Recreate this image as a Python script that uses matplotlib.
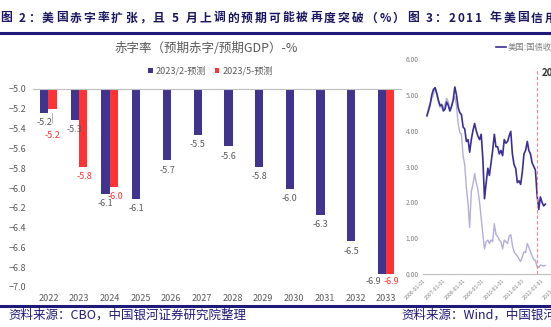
import matplotlib
matplotlib.use('Agg')
import matplotlib.pyplot as plt
import matplotlib.dates as mdates
import numpy as np
import pandas as pd

plt.rcParams['font.family'] = ['Noto Sans CJK SC', 'DejaVu Sans']

# deficit / GDP, CBO projections
years = ['2022', '2023', '2024', '2025', '2026', '2027', '2028', '2029', '2030', '2031', '2032', '2033']
feb_2023 = [-5.24, -5.31, -6.06, -6.11, -5.72, -5.46, -5.58, -5.79, -6.01, -6.27, -6.54, -6.87]
may_2023 = [-5.20, -5.79, -5.99, None, None, None, None, None, None, None, None, -6.87]
series_names = ['2023/2-预测', '2023/5-预测']

# US treasury yields, monthly, 2006-01 .. 2012-01
yield_10y = [4.42, 4.57, 4.72, 5.00, 5.15, 5.20, 5.05, 4.85, 4.70, 4.72, 4.55, 4.60,
             4.80, 4.70, 4.55, 4.68, 4.85, 5.22, 5.00, 4.65, 4.50, 4.45, 4.10, 4.05,
             3.70, 3.75, 3.40, 3.75, 4.00, 4.20, 4.00, 3.85, 3.75, 3.90, 3.20, 2.10,
             2.55, 2.95, 2.75, 3.10, 3.45, 3.90, 3.55, 3.55, 3.35, 3.45, 3.30, 3.75,
             3.65, 3.70, 3.85, 3.98, 3.35, 3.05, 2.95, 2.55, 2.60, 2.50, 2.85, 3.35,
             3.45, 3.70, 3.45, 3.35, 3.10, 3.00, 2.90, 2.20, 1.80, 2.15, 2.00, 1.90,
             1.95]
yield_2y = [4.40, 4.65, 4.78, 4.90, 5.00, 5.20, 5.00, 4.80, 4.65, 4.75, 4.60, 4.75,
            4.90, 4.80, 4.55, 4.65, 4.85, 4.95, 4.70, 4.20, 3.95, 3.90, 3.30, 3.05,
            2.40, 1.95, 1.30, 2.30, 2.50, 2.80, 2.55, 2.35, 2.00, 1.55, 1.10, 0.70,
            0.90, 0.95, 0.85, 0.95, 0.90, 1.40, 1.10, 1.05, 0.95, 0.90, 0.70, 0.95,
            0.90, 0.85, 1.05, 1.10, 0.80, 0.62, 0.55, 0.50, 0.42, 0.35, 0.48, 0.62,
            0.60, 0.85, 0.75, 0.62, 0.50, 0.40, 0.38, 0.20, 0.18, 0.25, 0.24, 0.22,
            0.24]
downgrade_date = '2011-08-05'

header = '图 2：美国赤字率扩张，且 5 月上调的预期可能被再度突破（%）图 3：2011 年美国信用'

BLUE = '#40348f'
RED = '#ff3333'
GREY = '#595959'
NAVY = '#1f1a7a'
W, H = 551, 327

fig = plt.figure(figsize=(W / 100, H / 100), dpi=100)
renderer = fig.canvas.get_renderer()

def box(x0, y0, x1, y1):
    # pixel box (top-left origin) -> figure fraction rect
    return [x0 / W, 1 - y1 / H, (x1 - x0) / W, (y1 - y0) / H]

def char_widths(s, **kw):
    widths = []
    for ch in s:
        if ch == ' ':
            widths.append(3.0)
            continue
        t = fig.text(0, 0, ch, **kw)
        widths.append(t.get_window_extent(renderer).width)
        t.remove()
    return widths

def tracked_text(x_px, y_px, s, anchor_char, anchor_x, **kw):
    # justified caption: spread letters so that anchor_char starts at anchor_x
    widths = char_widths(s, **kw)
    k = s.index(anchor_char)
    track = (anchor_x - x_px - sum(widths[:k])) / k
    x = x_px
    for ch, w in zip(s, widths):
        if ch != ' ':
            fig.text(x / W, 1 - y_px / H, ch, va='center', ha='left', **kw)
        x += w + track

# header / footer lines and captions
tracked_text(0, 18, header, '用', 545, fontsize=8.5, fontweight='bold', color='#1a1660')
for y in (33, 306):
    fig.add_artist(plt.Line2D([0, 1], [1 - y / H] * 2, color=NAVY, lw=2.2))
fig.text(8 / W, 1 - 315 / H, '资料来源：CBO，中国银河证券研究院整理', fontsize=9.0, color=NAVY, va='center')
fig.text(401 / W, 1 - 315 / H, '资料来源：Wind，中国银河', fontsize=9.0, color=NAVY, va='center')

# ---- deficit ratio bars ----
ax = fig.add_axes(box(33, 89, 401.4, 287))
x = np.arange(len(years))
w = 0.27
top = -5.0
feb = np.array(feb_2023, dtype=float)
may = np.array([np.nan if v is None else v for v in may_2023])
ax.bar(x - w / 2, feb - top, bottom=top, width=w, color=BLUE, label=series_names[0])
ax.bar(x + w / 2, may - top, bottom=top, width=w, color=RED, label=series_names[1])

for i, v in enumerate(feb):
    dx, dy = (-6, -5.5) if i == len(years) - 1 else (0, -7)
    ax.annotate(f'{v:.1f}', (x[i] - w / 2, v), xytext=(dx, dy), textcoords='offset points',
                ha='center', va='center', fontsize=6.5, color=GREY)
for i, v in enumerate(may):
    if np.isnan(v):
        continue
    if i == 0:
        ax.annotate(f'{v:.1f}', (x[i] + w / 2, v), xytext=(0, -19.5), textcoords='offset points',
                    ha='center', va='center', fontsize=6.5, color=RED,
                    arrowprops=dict(arrowstyle='-', color='#a6a6a6', lw=0.6, shrinkA=4, shrinkB=3.5))
    else:
        dy = -5.5 if i == len(years) - 1 else -7
        ax.annotate(f'{v:.1f}', (x[i] + w / 2, v), xytext=(1, dy), textcoords='offset points',
                    ha='center', va='center', fontsize=6.5, color=RED)

ax.set_xlim(-0.5, len(years) - 0.5)
ax.set_ylim(-7.0, -5.0)
ax.set_yticks(np.arange(-7.0, -4.99, 0.2))
ax.yaxis.set_major_formatter(plt.FuncFormatter(lambda v, _: f'{v:.1f}'.replace('-', '\u2212')))
ax.set_xticks(x, years)
ax.tick_params(length=0, labelsize=6.5, colors=GREY)
ax.tick_params(axis='y', pad=5)
ax.tick_params(axis='x', pad=5)
for s in ('left', 'right', 'bottom'):
    ax.spines[s].set_visible(False)
ax.spines['top'].set_color('#bfbfbf')
ax.spines['top'].set_linewidth(0.8)
ax.patch.set_alpha(0)

fig.text(206 / W, 1 - 48 / H, '赤字率（预期赤字/预期GDP）-%', fontsize=9, color=GREY, ha='center', va='center')
fig.legend(loc='center', bbox_to_anchor=(210 / W, 1 - 71 / H), ncol=2, frameon=False,
           fontsize=6.5, labelcolor=GREY, handlelength=0.55, handleheight=0.55,
           handletextpad=0.3, columnspacing=1.0)

# ---- treasury yields (next panel, clipped by the page edge) ----
ax2 = fig.add_axes(box(423, 59, 570, 274))
dates = pd.date_range('2006-01-01', periods=len(yield_10y), freq='MS')
ax2.plot(dates, yield_2y, color='#b3aed9', lw=1.0)
ax2.plot(dates, yield_10y, color='#3a2f95', lw=1.2, label='美国:国债收益率:10年')
d = pd.Timestamp(downgrade_date)
ax2.plot([d, d], [0, 5.75], color='#ff8080', lw=0.8, ls=(0, (3, 2)))
ax2.text(d + pd.Timedelta(days=90), 5.6, '2011', fontsize=7,
         fontweight='bold', color='#333333', va='center')
ax2.set_ylim(0, 6)
ax2.set_xlim(pd.Timestamp('2005-10-20'), pd.Timestamp('2013-04-01'))
ax2.set_yticks(np.arange(0, 6.01, 1.0))
ax2.yaxis.set_major_formatter(plt.FuncFormatter(lambda v, _: f'{v:.2f}'))
ax2.xaxis.set_major_locator(mdates.YearLocator())
ax2.xaxis.set_major_formatter(mdates.DateFormatter('%Y-%m-%d'))
ax2.tick_params(length=0, labelsize=4.8, colors='#7f7f7f', pad=3)
plt.setp(ax2.get_xticklabels(), rotation=45, ha='right', fontsize=3.8)
for s in ('left', 'right', 'top'):
    ax2.spines[s].set_visible(False)
ax2.spines['bottom'].set_color('#bfbfbf')
ax2.spines['bottom'].set_linewidth(0.8)
ax2.patch.set_alpha(0)
fig.legend(handles=ax2.get_lines()[1:2], loc='center left', bbox_to_anchor=(488 / W, 1 - 47 / H),
           frameon=False, fontsize=6, labelcolor='#7f7f7f', handlelength=1.2, handletextpad=0.3)

fig.savefig('out.png', dpi=100)
